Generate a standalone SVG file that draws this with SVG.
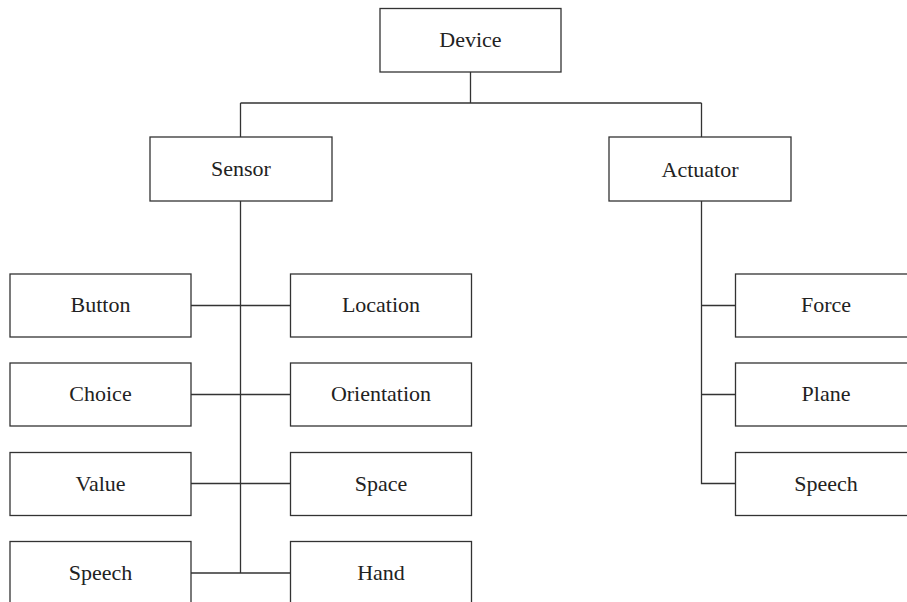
<svg xmlns="http://www.w3.org/2000/svg" width="907" height="602" viewBox="0 0 907 602">
  <style>
    .box { fill: #ffffff; stroke: #333333; stroke-width: 1.3; }
    .lbl { font-family: "Liberation Serif", "Times New Roman", serif; font-size: 22px; fill: #222222; text-anchor: middle; dominant-baseline: central; }
    .wire { fill: none; stroke: #333333; stroke-width: 1.3; }
  </style>
  <rect width="907" height="602" fill="#ffffff"/>

  <g id="connectors">
    <path class="wire" d="M470.5,72 V103 M240.5,103 H701.5 M240.5,103 V137 M701.5,103 V137"/>
    <path class="wire" d="M240.5,201 V573"/>
    <path class="wire" d="M191,305.5 H290.5 M191,394.5 H290.5 M191,483.5 H290.5 M191,573 H290.5"/>
    <path class="wire" d="M701.5,201 V483.5 H735.5 M701.5,305.5 H735.5 M701.5,394.5 H735.5"/>
  </g>

  <g id="device"><rect class="box" x="380" y="8.5" width="181" height="63.5"/><text class="lbl" x="470.5" y="39">Device</text></g>
  <g id="sensor"><rect class="box" x="150" y="137" width="182" height="64"/><text class="lbl" x="241" y="168">Sensor</text></g>
  <g id="actuator"><rect class="box" x="609" y="137" width="182" height="64"/><text class="lbl" x="700" y="169">Actuator</text></g>

  <g id="button"><rect class="box" x="10" y="274" width="181" height="63"/><text class="lbl" x="100.5" y="304">Button</text></g>
  <g id="choice"><rect class="box" x="10" y="363" width="181" height="63"/><text class="lbl" x="100.5" y="393">Choice</text></g>
  <g id="value"><rect class="box" x="10" y="452.5" width="181" height="63"/><text class="lbl" x="100.5" y="483">Value</text></g>
  <g id="sensor-speech"><rect class="box" x="10" y="541.5" width="181" height="70"/><text class="lbl" x="100.5" y="572">Speech</text></g>

  <g id="location"><rect class="box" x="290.5" y="274" width="181" height="63"/><text class="lbl" x="381" y="304">Location</text></g>
  <g id="orientation"><rect class="box" x="290.5" y="363" width="181" height="63"/><text class="lbl" x="381" y="393">Orientation</text></g>
  <g id="space"><rect class="box" x="290.5" y="452.5" width="181" height="63"/><text class="lbl" x="381" y="483">Space</text></g>
  <g id="hand"><rect class="box" x="290.5" y="541.5" width="181" height="70"/><text class="lbl" x="381" y="572">Hand</text></g>

  <g id="force"><rect class="box" x="735.5" y="274" width="190" height="63"/><text class="lbl" x="826" y="304">Force</text></g>
  <g id="plane"><rect class="box" x="735.5" y="363" width="190" height="63"/><text class="lbl" x="826" y="393">Plane</text></g>
  <g id="actuator-speech"><rect class="box" x="735.5" y="452.5" width="190" height="63"/><text class="lbl" x="826" y="483">Speech</text></g>
</svg>
